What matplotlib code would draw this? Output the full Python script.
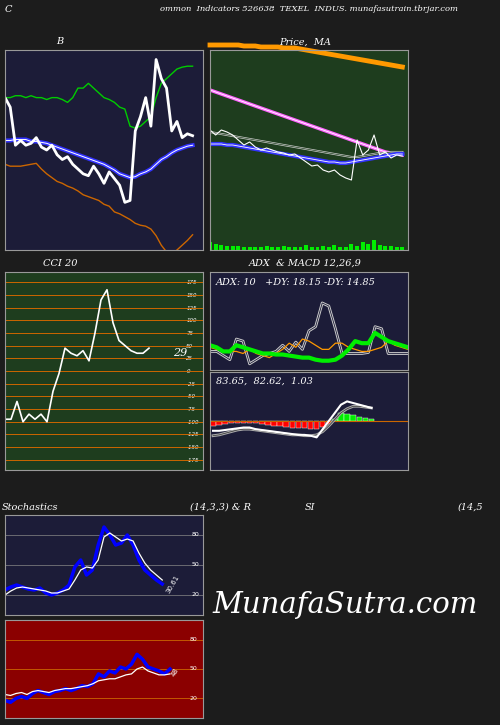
import matplotlib
matplotlib.use("Agg")
import matplotlib.pyplot as plt
import numpy as np

BG = "#1c1c1c"
NAVY = "#1c1c38"
GREEN = "#1e3d1e"
RED = "#8b0000"

# Bollinger
bb_price = [150,140,100,105,100,102,108,98,95,100,90,85,88,80,75,70,68,78,70,60,72,65,58,40,42,115,130,150,120,190,170,160,115,125,108,112,110]
bb_upper = [150,150,152,152,150,152,150,150,148,150,150,148,145,150,160,160,165,160,155,150,148,145,140,138,120,118,120,125,130,150,165,170,175,180,182,183,183]
bb_mid = [105,105,106,106,106,104,104,103,102,100,98,96,94,92,90,88,86,84,82,80,77,74,70,68,66,67,70,72,75,80,85,88,92,95,97,99,100]
bb_lower = [80,78,78,78,79,80,81,75,70,66,62,60,57,55,52,48,46,44,42,38,36,30,28,25,22,18,16,15,12,5,-5,-12,-14,-10,-5,0,6]
# Price MA
pm_price = [120,115,120,118,115,110,105,108,103,100,102,100,98,97,95,96,92,88,84,85,80,78,80,75,72,70,110,95,100,115,95,98,92,95,94]
pm_ma1 = [160,158,156,154,152,150,148,146,144,142,140,138,136,134,132,130,128,126,124,122,120,118,116,114,112,110,108,106,104,102,100,98,97,96,95]
pm_ma2 = [106,106,106,105,105,104,103,102,101,100,99,98,97,96,95,94,93,92,91,90,89,88,88,87,87,88,89,90,91,92,93,94,95,96,96]
pm_ma3 = [118,117,116,115,114,113,112,111,110,109,108,107,106,105,104,103,102,101,100,99,98,97,96,95,94,93,93,94,95,96,97,97,98,98,98]
pm_ma4 = [205,205,205,205,205,205,204,204,204,203,203,203,203,202,202,202,201,200,199,198,197,196,195,194,193,192,191,190,189,188,187,186,185,184,183]
pm_vol = [8,6,5,4,4,4,3,3,3,3,4,3,3,4,3,3,3,5,3,3,4,3,5,3,3,6,4,8,6,10,5,4,4,3,3]
# CCI
cci = [-95,-95,-60,-100,-85,-95,-85,-100,-40,-5,45,35,30,40,20,75,140,160,95,60,50,40,35,35,45]
cci_levels = [175,150,125,100,75,50,25,0,-25,-50,-75,-100,-125,-150,-175]
# ADX
adx_di1 = [18,18,14,10,30,28,6,10,14,16,18,24,18,27,20,38,42,65,62,40,16,16,16,16,17,42,40,16,16,16,16]
adx_di2 = [22,20,18,18,18,16,20,16,14,12,16,20,26,22,30,28,24,20,20,26,26,22,20,18,18,20,22,28,24,22,20]
adx = [24,22,18,18,24,22,20,18,16,16,15,15,14,13,12,12,10,9,9,10,14,20,28,26,26,36,32,28,26,24,22]
macd = [-12,-12,-11,-10,-9,-8,-8,-10,-11,-12,-13,-14,-15,-16,-17,-17,-18,-20,-10,0,10,20,24,22,20,18,16]
macd_sig = [-18,-17,-15,-13,-11,-10,-10,-11,-12,-13,-14,-15,-16,-17,-17,-18,-18,-17,-13,-6,2,10,15,18,18,17,16]
macd_hist = [-6,-5,-4,-3,-2,-2,-2,-3,-4,-5,-6,-6,-7,-8,-9,-9,-10,-10,-7,-4,3,10,9,7,5,4,3]
# Stochastics
stoch_k = [25,28,30,28,26,25,27,22,20,22,25,30,48,55,40,45,70,88,80,70,72,80,70,55,45,40,35,31]
stoch_d = [20,24,27,28,27,26,25,24,22,22,24,26,35,45,48,47,55,78,82,78,74,76,74,62,52,45,40,35]
# RSI
rsi_a = [18,16,20,22,20,25,28,26,24,27,28,30,28,30,33,32,35,45,42,48,46,52,50,55,65,60,52,50,48,45,50]
rsi_b = [24,23,25,26,24,27,28,27,26,28,29,30,30,31,32,33,35,38,39,40,40,42,44,45,50,52,48,46,44,44,45]

fig = plt.figure(figsize=(5, 7.25), dpi=100, facecolor=BG)

def panel(x0, y0, x1, y1, bg):
    a = fig.add_axes([x0/500, 1-y1/725, (x1-x0)/500, (y1-y0)/725], facecolor=bg)
    a.set_xticks([]); a.set_yticks([])
    for s in a.spines.values():
        s.set_color("#999999"); s.set_linewidth(0.8)
    return a

tf = dict(color="white", fontsize=7, fontstyle="italic", family="DejaVu Serif")
fig.text(0.01, 0.993, "C", va="top", **tf)
fig.text(0.32, 0.993, "ommon  Indicators 526638  TEXEL  INDUS. munafasutrain.tbrjar.com", va="top", fontsize=6, color="white", fontstyle="italic", family="DejaVu Serif")

# Bollinger
a = panel(5, 50, 203, 250, NAVY)
x = np.arange(len(bb_price))
a.plot(x, bb_upper, color="#00cc00", lw=1)
a.plot(x, bb_mid, color="#3333ff", lw=3)
a.plot(x, bb_mid, color="white", lw=0.7)
a.plot(x, bb_lower, color="#cc6600", lw=1)
a.plot(x, bb_price, color="white", lw=2)
a.set_xlim(0, len(x)+1); a.set_ylim(-10, 200)
fig.text(60/500, 1-42/725, "B", ha="center", va="center", **tf)

# Price MA
a = panel(210, 50, 408, 250, GREEN)
x = np.arange(len(pm_price))
a.bar(x, pm_vol, color="#00ee00", width=0.7, bottom=0)
a.plot(x, pm_ma1, color="#ff66ff", lw=2.5)
a.plot(x, pm_ma1, color="white", lw=0.6)
a.plot(x, pm_ma3, color="#cccccc", lw=1.5)
a.plot(x, pm_ma3, color=GREEN, lw=0.5)
a.plot(x, pm_ma2, color="#3333ff", lw=3)
a.plot(x, pm_ma2, color="white", lw=0.6)
a.plot(x, pm_price, color="white", lw=0.8)
a.plot(x, pm_ma4, color="#ff9900", lw=3.5, clip_on=False)
a.set_xlim(0, len(x)); a.set_ylim(0, 200)
fig.text(305/500, 1-42/725, "Price,  MA", ha="center", va="center", **tf)

# CCI
a = panel(5, 272, 203, 470, GREEN)
for l in cci_levels:
    a.axhline(l, color="#cc6600", lw=0.7)
x = np.arange(len(cci))
a.plot(x, cci, color="white", lw=1.2)
a.set_xlim(0, 33); a.set_ylim(-195, 195)
a.yaxis.tick_right()
a.set_yticks(cci_levels)
a.set_yticklabels([str(l) for l in cci_levels], fontsize=4, color="white", fontstyle="italic")
a.tick_params(axis="y", direction="in", pad=-12, length=0)
a.text(28, 30, "29", color="white", fontsize=8, fontstyle="italic", family="DejaVu Serif")
fig.text(60/500, 1-263/725, "CCI 20", ha="center", va="center", **tf)

# ADX
a = panel(210, 272, 408, 370, NAVY)
x = np.arange(len(adx))
a.plot(x, adx_di1, color="#cccccc", lw=2)
a.plot(x, adx_di1, color=NAVY, lw=0.6)
a.plot(x, adx_di2, color="#ff9900", lw=0.9)
a.plot(x, adx, color="#00ee00", lw=3)
a.set_xlim(0, len(x)-1); a.set_ylim(0, 95)
a.text(0.03, 0.94, "ADX: 10   +DY: 18.15 -DY: 14.85", transform=a.transAxes, va="top", **tf)
fig.text(305/500, 1-263/725, "ADX  & MACD 12,26,9", ha="center", va="center", **tf)

# MACD
a = panel(210, 372, 408, 470, NAVY)
x = np.arange(len(macd))
a.axhline(0, color="#cc6600", lw=0.8)
a.bar(x, macd_hist, color=["#ff0000" if v < 0 else "#00ee00" for v in macd_hist], width=0.9, edgecolor="white", linewidth=0.3)
a.plot(x, macd_sig, color="#aaaaaa", lw=2)
a.plot(x, macd_sig, color="#333333", lw=0.5)
a.plot(x, macd, color="white", lw=1.5)
a.set_xlim(-0.5, 32); a.set_ylim(-60, 60)
a.text(0.03, 0.95, "83.65,  82.62,  1.03", transform=a.transAxes, va="top", **tf)

# Stochastics
a = panel(5, 515, 203, 615, NAVY)
for l in [20, 50, 80]:
    a.axhline(l, color="#888888", lw=0.5)
x = np.arange(len(stoch_k))
a.plot(x, stoch_k, color="#0000ff", lw=2.5)
a.plot(x, stoch_d, color="white", lw=0.9)
a.set_xlim(0, 34); a.set_ylim(0, 100)
for l in [20, 50, 80]:
    a.text(32, l, str(l), color="white", fontsize=4.5, va="center")
a.text(27.5, 22, "30.61", color="white", fontsize=5, rotation=60)
fig.text(30/500, 1-507/725, "Stochastics", ha="center", va="center", **tf)
fig.text(220/500, 1-507/725, "(14,3,3) & R", ha="center", va="center", **tf)
fig.text(310/500, 1-507/725, "SI", ha="center", va="center", **tf)
fig.text(470/500, 1-507/725, "(14,5", ha="center", va="center", **tf)

# RSI
a = panel(5, 620, 203, 718, RED)
for l in [20, 50, 80]:
    a.axhline(l, color="#cc6600", lw=0.6)
x = np.arange(len(rsi_a))
a.plot(x, rsi_a, color="#0000ff", lw=2.5)
a.plot(x, rsi_b, color="white", lw=0.9)
a.set_xlim(0, 36); a.set_ylim(0, 100)
for l in [20, 50, 80]:
    a.text(33.5, l, str(l), color="white", fontsize=4.5, va="center")
a.text(30, 42, "48", color="white", fontsize=5, rotation=60)

fig.text(345/500, 1-605/725, "MunafaSutra.com", ha="center", va="center", color="white", fontsize=21, fontstyle="italic", family="DejaVu Serif")

fig.savefig("out.png", dpi=100, facecolor=BG)
